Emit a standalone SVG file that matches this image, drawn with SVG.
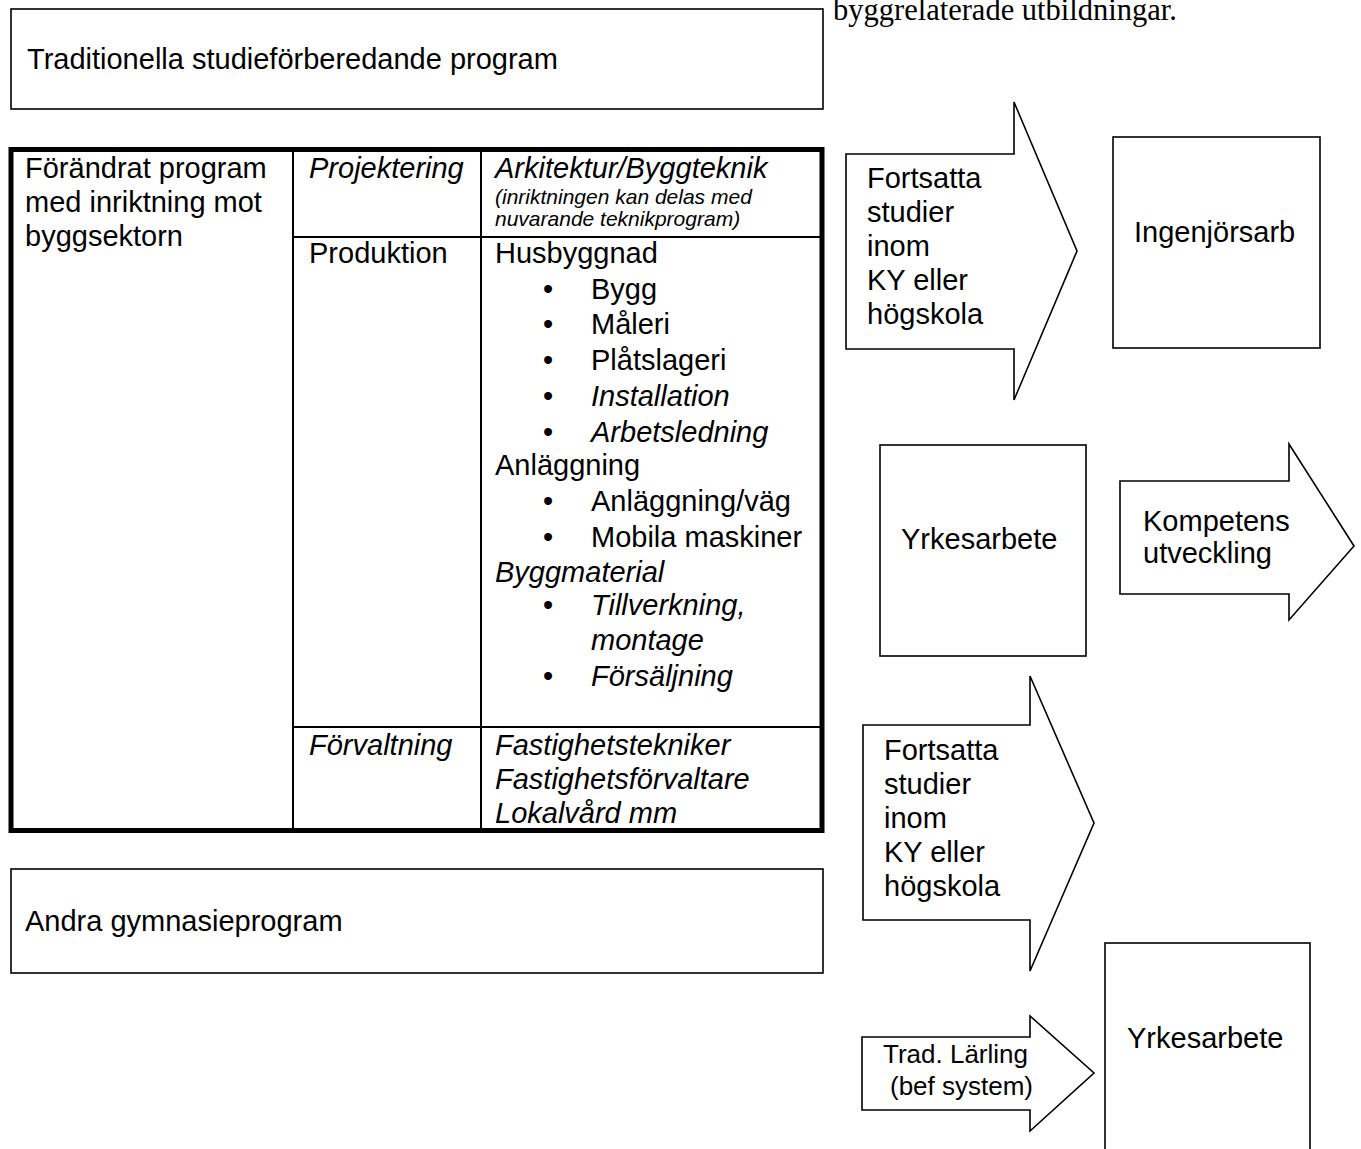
<svg xmlns="http://www.w3.org/2000/svg" width="1361" height="1149" viewBox="0 0 1361 1149">
<style>
text{font-family:"Liberation Sans",Arial,sans-serif;font-size:29px;fill:#000}
.i{font-style:italic}
.s{font-size:21px}
.serif{font-family:"Liberation Serif","Times New Roman",serif;font-size:30.5px}
.box{fill:#fff;stroke:#000;stroke-width:1.6}
.thin{stroke:#000;stroke-width:2;fill:none}
.thick{fill:none;stroke:#000;stroke-width:5}
</style>
<rect width="1361" height="1149" fill="#fff"/>
<g id="caption"><text class="serif" x="833" y="20">byggrelaterade utbildningar.</text></g>
<g id="trad"><rect class="box" x="11" y="9" width="812" height="100"/><text x="27" y="69">Traditionella studieförberedande program</text></g>
<g id="table">
<rect class="thick" x="11" y="149.5" width="811" height="681"/>
<line class="thin" x1="293" y1="150" x2="293" y2="830"/>
<line class="thin" x1="481" y1="150" x2="481" y2="830"/>
<line class="thin" x1="293" y1="237" x2="822" y2="237"/>
<line class="thin" x1="293" y1="727" x2="822" y2="727"/>
<text x="25" y="178">Förändrat program</text>
<text x="25" y="212">med inriktning mot</text>
<text x="25" y="246">byggsektorn</text>
<text class="i" x="309" y="178">Projektering</text>
<text x="309" y="263">Produktion</text>
<text class="i" x="309" y="755">Förvaltning</text>
<text class="i" x="495" y="178">Arkitektur/Byggteknik</text>
<text class="i s" x="495" y="204">(inriktningen kan delas med</text>
<text class="i s" x="495" y="226">nuvarande teknikprogram)</text>
<text x="495" y="263">Husbyggnad</text>
<text x="543" y="299">•</text><text x="591" y="299">Bygg</text>
<text x="543" y="334">•</text><text x="591" y="334">Måleri</text>
<text x="543" y="370">•</text><text x="591" y="370">Plåtslageri</text>
<text x="543" y="406">•</text><text class="i" x="591" y="406">Installation</text>
<text x="543" y="442">•</text><text class="i" x="591" y="442">Arbetsledning</text>
<text x="495" y="475">Anläggning</text>
<text x="543" y="511">•</text><text x="591" y="511">Anläggning/väg</text>
<text x="543" y="547">•</text><text x="591" y="547">Mobila maskiner</text>
<text class="i" x="495" y="582">Byggmaterial</text>
<text x="543" y="615">•</text><text class="i" x="591" y="615">Tillverkning,</text>
<text class="i" x="591" y="650">montage</text>
<text x="543" y="686">•</text><text class="i" x="591" y="686">Försäljning</text>
<text class="i" x="495" y="755">Fastighetstekniker</text>
<text class="i" x="495" y="789">Fastighetsförvaltare</text>
<text class="i" x="495" y="823">Lokalvård mm</text>
</g>
<g id="andra"><rect class="box" x="11" y="869" width="812" height="104"/><text x="25" y="931">Andra gymnasieprogram</text></g>
<g id="arrow1"><path class="box" d="M846,154 H1014 V102 L1077,251 L1014,400 V349 H846 Z"/>
<text x="867" y="188">Fortsatta</text><text x="867" y="222">studier</text><text x="867" y="256">inom</text><text x="867" y="290">KY eller</text><text x="867" y="324">högskola</text></g>
<g id="ingenjor"><rect class="box" x="1113" y="137" width="207" height="211"/><text x="1134" y="242">Ingenjörsarb</text></g>
<g id="yrke1"><rect class="box" x="880" y="445" width="206" height="211"/><text x="901" y="549">Yrkesarbete</text></g>
<g id="kompetens"><path class="box" d="M1120,481 H1289 V444 L1354,546 L1289,620 V594 H1120 Z"/>
<text x="1143" y="531">Kompetens</text><text x="1143" y="563">utveckling</text></g>
<g id="arrow2"><path class="box" d="M863,725 H1030 V676 L1094,823 L1030,971 V920 H863 Z"/>
<text x="884" y="760">Fortsatta</text><text x="884" y="794">studier</text><text x="884" y="828">inom</text><text x="884" y="862">KY eller</text><text x="884" y="896">högskola</text></g>
<g id="larling"><path class="box" d="M862,1037 H1030 V1016 L1094,1073 L1030,1131 V1110 H862 Z"/>
<text x="883" y="1063" style="font-size:26px">Trad. Lärling</text><text x="890" y="1095" style="font-size:26px">(bef system)</text></g>
<g id="yrke2"><rect class="box" x="1105" y="943" width="205" height="220"/><text x="1127" y="1048">Yrkesarbete</text></g>
</svg>
